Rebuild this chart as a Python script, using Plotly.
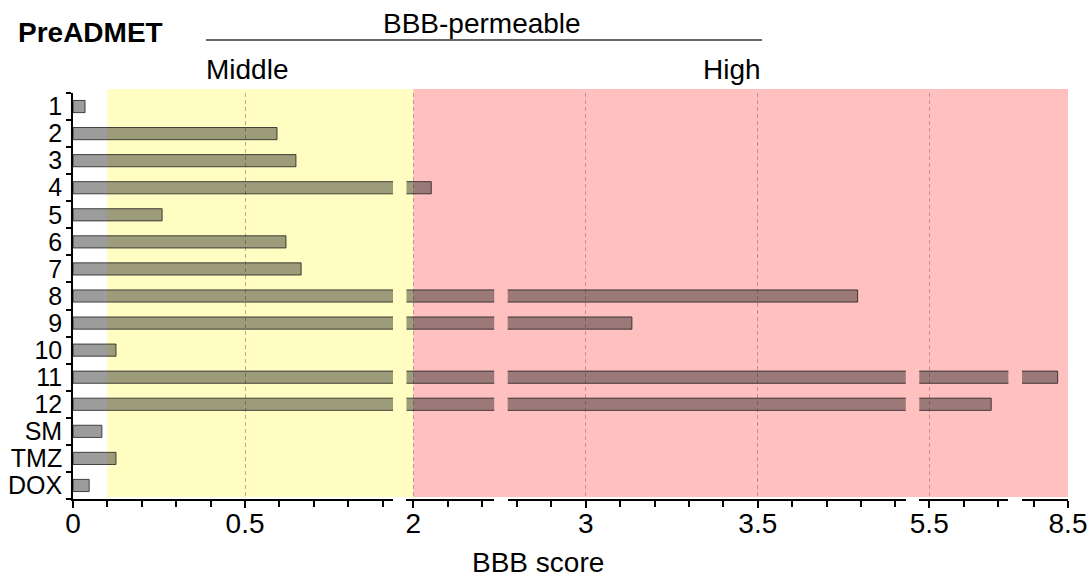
import plotly.graph_objects as go

# Compounds (top to bottom) and their PreADMET BBB scores
compounds = ["1", "2", "3", "4", "5", "6", "7", "8", "9", "10", "11", "12", "SM", "TMZ", "DOX"]
bbb_scores = [0.035, 0.593, 0.648, 2.052, 0.259, 0.619, 0.663, 3.79, 3.134, 0.125, 8.47, 5.68, 0.084, 0.125, 0.047]

# Broken x-axis: visible pieces of the score scale
segments = [(0.0, 0.93), (1.98, 2.235), (2.773, 3.93), (5.471, 5.73), (8.366, 8.5)]
major_ticks = [0, 0.5, 2, 3, 3.5, 5.5, 8.5]
tick_labels = ["0", "0.5", "2", "3", "3.5", "5.5", "8.5"]

# Permeability bands
middle_band = (0.1, 2.0)
high_band = (2.0, 8.5)

W, H = 1092, 578
ML, MR, MT, MB = 73, 24, 93, 79
plot_w = W - ML - MR
gap_px = 13.5
FONT = "Liberation Sans, Arial, sans-serif"
FS = 28

# domains of each axis piece, same scale in every piece
total_units = sum(b - a for a, b in segments)
px_per_unit = (plot_w - gap_px * (len(segments) - 1)) / total_units
domains = []
cursor = 0.0
for a, b in segments:
    w = (b - a) * px_per_unit
    domains.append((cursor / plot_w, (cursor + w) / plot_w))
    cursor += w + gap_px


def to_paper(v):
    """Map a score onto paper x, placing values that fall in a gap at the gap."""
    for (a, b), (d0, d1) in zip(segments, domains):
        if v <= b:
            if v < a:
                return d0
            return d0 + (v - a) / (b - a) * (d1 - d0)
    return domains[-1][1]


fig = go.Figure()

bar_fill = "rgba(35,35,35,0.45)"
bar_edge = "rgba(20,20,20,0.75)"

for i, (rng, dom) in enumerate(zip(segments, domains)):
    name = "x" if i == 0 else f"x{i + 1}"
    fig.add_trace(go.Bar(
        x=bbb_scores, y=compounds, orientation="h",
        xaxis=name, yaxis="y", width=0.45,
        marker=dict(color=bar_fill, line=dict(color=bar_edge, width=1)),
        showlegend=False, hoverinfo="x+y",
    ))
    tv = [t for t in major_ticks if rng[0] - 1e-9 <= t <= rng[1] + 1e-9]
    tt = [tick_labels[major_ticks.index(t)] for t in tv]
    minor_vals = [round(k * 0.1, 1) for k in range(0, 86)]
    minor_vals = [m for m in minor_vals if rng[0] - 1e-9 <= m <= rng[1] + 1e-9 and m not in tv]
    axis = dict(
        domain=list(dom), range=list(rng), anchor="y", automargin=False,
        showline=True, linecolor="black", linewidth=1.6,
        ticks="outside", ticklen=7, tickwidth=1.6, tickcolor="black",
        tickmode="array", tickvals=tv, ticktext=tt,
        tickfont=dict(family=FONT, size=FS, color="black"),
        ticklabelstandoff=-8,
        showgrid=True, gridcolor="rgba(150,110,115,0.6)", griddash="4px,3px", gridwidth=1,
        zeroline=False,
        minor=dict(tickmode="array", tickvals=minor_vals, ticks="outside",
                   ticklen=6, tickwidth=1.6, tickcolor="black", showgrid=False),
    )
    fig.layout["xaxis" if i == 0 else f"xaxis{i + 1}"] = axis

fig.update_layout(
    yaxis=dict(
        type="category", categoryorder="array", categoryarray=compounds,
        tickmode="array", tickvals=compounds, ticktext=compounds,
        autorange="reversed", anchor="x", domain=[0, 1], automargin=False,
        showline=True, linecolor="black", linewidth=1.6,
        ticks="outside", tickson="boundaries", ticklen=5, tickwidth=1.6, tickcolor="black",
        tickfont=dict(family=FONT, size=25, color="black"),
        ticklabelstandoff=4,
        showgrid=False, zeroline=False,
    )
)

# background bands spanning the axis gaps
band_top = 1 + 4 / (H - MT - MB)
band_bot = 2 / (H - MT - MB)
fig.add_shape(type="rect", xref="paper", yref="paper",
              x0=to_paper(middle_band[0]), x1=to_paper(middle_band[1]),
              y0=band_bot, y1=band_top, fillcolor="#fffdc2", line_width=0, layer="below")
fig.add_shape(type="rect", xref="paper", yref="paper",
              x0=to_paper(high_band[0]), x1=to_paper(high_band[1]),
              y0=band_bot, y1=band_top, fillcolor="#ffc0c0", line_width=0, layer="below")

ph = H - MT - MB


def py(p):
    return (H - MB - p) / ph


def px(p):
    return (p - ML) / plot_w


# header: BBB-permeable bracket with Middle / High labels
fig.add_shape(type="line", xref="paper", yref="paper",
              x0=px(206), x1=px(762), y0=py(40), y1=py(40),
              line=dict(color="#333333", width=1.5))
fig.add_annotation(text="BBB-permeable", xref="paper", yref="paper", x=px(482), y=py(23),
                   showarrow=False, font=dict(family=FONT, size=FS, color="black"),
                   xanchor="center", yanchor="middle")
fig.add_annotation(text="Middle", xref="paper", yref="paper", x=px(204), y=py(70),
                   showarrow=False, font=dict(family=FONT, size=FS, color="black"),
                   xanchor="left", yanchor="middle")
fig.add_annotation(text="High", xref="paper", yref="paper", x=px(763), y=py(70),
                   showarrow=False, font=dict(family=FONT, size=FS, color="black"),
                   xanchor="right", yanchor="middle")
fig.add_annotation(text="<b>PreADMET</b>", xref="paper", yref="paper", x=px(90), y=py(33),
                   showarrow=False, font=dict(family=FONT, size=FS, color="black"),
                   xanchor="center", yanchor="middle")
fig.add_annotation(text="BBB score", xref="paper", yref="paper", x=px(538), y=py(562),
                   showarrow=False, font=dict(family=FONT, size=FS, color="black"),
                   xanchor="center", yanchor="middle")

fig.update_layout(
    width=W, height=H,
    margin=dict(l=ML, r=MR, t=MT, b=MB, pad=0),
    paper_bgcolor="white", plot_bgcolor="rgba(0,0,0,0)",
    barmode="overlay", bargap=0.5,
)

fig.write_html("out.html")
